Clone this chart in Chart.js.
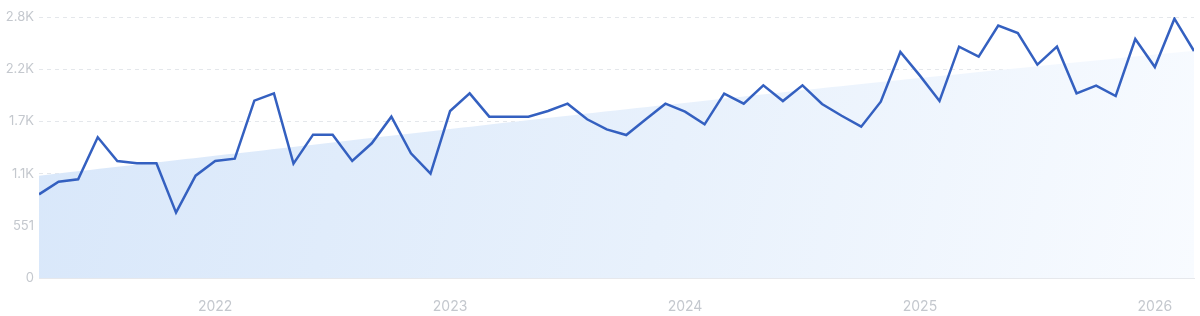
<!DOCTYPE html>
<html>
<head>
<meta charset="utf-8">
<script src="https://cdn.jsdelivr.net/npm/chart.js@4"></script>
<style>
  html, body { margin: 0; padding: 0; background: #fff; }
  #wrap { width: 1200px; height: 316px; }
</style>
</head>
<body>
<div id="wrap"><canvas id="trend"></canvas></div>
<script>
// monthly values, Apr 2021 .. Mar 2026 (index 0..59)
var values = [
  883, 1017, 1042, 1485, 1235, 1211, 1211, 690, 1080, 1235, 1260, 1872,
  1949, 1207, 1513, 1513, 1235, 1422, 1703, 1316, 1101, 1763, 1949, 1703,
  1703, 1703, 1763, 1840, 1675, 1569, 1509, 1675, 1840, 1756, 1622, 1946,
  1840, 2034, 1868, 2034, 1837, 1713, 1597, 1861, 2386, 2136, 1868, 2442,
  2336, 2664, 2586, 2252, 2442, 1949, 2030, 1921, 2523, 2227, 2737, 2396
];

// shaded trend band, read at a few months
var trendIdx = [0, 15, 30, 45, 59];
var trendVals = [1080, 1430, 1780, 2110, 2399];

// year ticks (January of each year)
var yearIdx = [9, 21, 33, 45, 57];
var yearLabels = ['2022', '2023', '2024', '2025', '2026'];

var yTicks = [0, 551, 1102, 1653, 2204, 2755];
var yLabels = ['0', '551', '1.1K', '1.7K', '2.2K', '2.8K'];

var lineData = values.map(function (v, i) { return { x: i, y: v }; });
var trendData = trendIdx.map(function (m, i) { return { x: m, y: trendVals[i] }; });

function bandFill(context) {
    var chart = context.chart;
    var area = chart.chartArea;
    if (!area) return 'rgba(219,233,250,1)';
    var g = chart.ctx.createLinearGradient(area.left, area.top, area.right, area.bottom);
    g.addColorStop(0, 'rgba(216,231,250,1)');
    g.addColorStop(0.55, 'rgba(232,241,252,1)');
    g.addColorStop(1, 'rgba(248,251,255,1)');
    return g;
}

var ctx = document.getElementById('trend').getContext('2d');
var chart = new Chart(ctx, {
    type: 'line',
    data: {
        datasets: [{
            label: 'Volume',
            data: lineData,
            borderColor: '#3460c0',
            borderWidth: 2.5,
            pointRadius: 0,
            tension: 0,
            fill: false,
            order: 0
        }, {
            label: 'Trend',
            data: trendData,
            borderWidth: 0,
            borderColor: 'rgba(0,0,0,0)',
            backgroundColor: bandFill,
            pointRadius: 0,
            tension: 0.4,
            fill: 'origin',
            order: 1
        }]
    },
    options: {
        responsive: true,
        maintainAspectRatio: false,
        animation: false,
        layout: { padding: { top: 17, right: 6, left: 0, bottom: 0 } },
        plugins: {
            legend: { display: false },
            tooltip: { enabled: false }
        },
        scales: {
            x: {
                type: 'linear',
                min: 0,
                max: 59,
                afterBuildTicks: function (axis) {
                    axis.ticks = yearIdx.map(function (v) { return { value: v }; });
                },
                afterFit: function (axis) { axis.height = 38; },
                grid: { display: false },
                border: { display: true, color: '#e6e8ec', width: 1 },
                ticks: {
                    autoSkip: false,
                    maxRotation: 0,
                    padding: 12,
                    color: '#c4c8ce',
                    font: { family: 'Inter', size: 14 },
                    callback: function (v) {
                        var k = yearIdx.indexOf(v);
                        return k >= 0 ? yearLabels[k] : '';
                    }
                }
            },
            y: {
                min: 0,
                max: 2755,
                afterBuildTicks: function (axis) {
                    axis.ticks = yTicks.map(function (v) { return { value: v }; });
                },
                afterFit: function (axis) { axis.width = 39; },
                border: { display: false, dash: [4, 4] },
                grid: { color: '#e4e7eb', drawTicks: false },
                ticks: {
                    padding: 5,
                    color: '#c4c8ce',
                    font: { family: 'Inter', size: 13 },
                    callback: function (v) {
                        var k = yTicks.indexOf(v);
                        return k >= 0 ? yLabels[k] : '';
                    }
                }
            }
        }
    }
});
</script>
</body>
</html>
